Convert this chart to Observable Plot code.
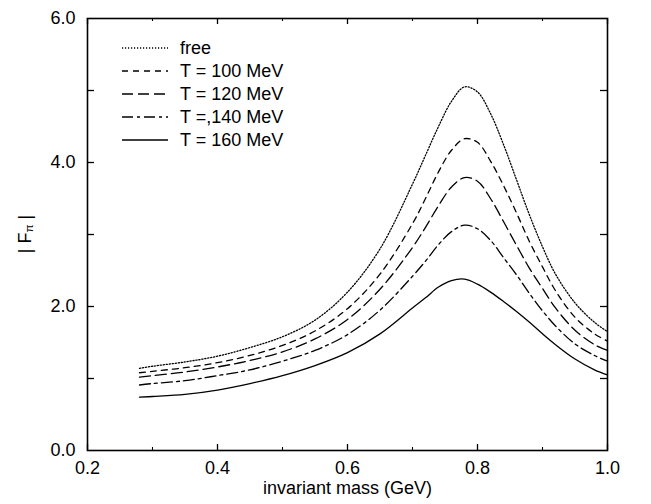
<!DOCTYPE html>
<html>
<head>
<meta charset="utf-8">
<script src="https://cdn.jsdelivr.net/npm/d3@7"></script>
<script src="https://cdn.jsdelivr.net/npm/@observablehq/plot@0.6"></script>
<style>
  html, body { margin: 0; padding: 0; background: white; }
  #chart svg { display: block; }
</style>
</head>
<body>
<div id="chart"></div>
<script>
// ---- data ----
const mass = [0.28,0.30,0.35,0.40,0.45,0.50,0.55,0.60,0.65,0.70,0.72,0.74,0.76,0.78,0.80,0.82,0.84,0.86,0.88,0.90,0.92,0.95,0.98,1.00];
const fFree = [1.14,1.17,1.23,1.31,1.43,1.58,1.81,2.20,2.80,3.70,4.10,4.50,4.85,5.05,4.98,4.68,4.25,3.76,3.27,2.83,2.45,2.05,1.78,1.65];
const fT100 = [1.08,1.10,1.15,1.22,1.32,1.46,1.66,1.97,2.45,3.15,3.50,3.87,4.17,4.33,4.28,4.02,3.68,3.30,2.90,2.55,2.22,1.85,1.62,1.52];
const fT120 = [1.02,1.04,1.09,1.16,1.25,1.37,1.55,1.82,2.24,2.82,3.10,3.40,3.66,3.79,3.74,3.50,3.18,2.85,2.53,2.25,1.98,1.67,1.47,1.39];
const fT140 = [0.91,0.93,0.97,1.04,1.12,1.24,1.39,1.61,1.95,2.42,2.63,2.86,3.04,3.13,3.08,2.92,2.68,2.44,2.18,1.94,1.73,1.48,1.32,1.24];
const fT160 = [0.74,0.75,0.78,0.84,0.93,1.04,1.18,1.36,1.62,1.98,2.12,2.27,2.36,2.38,2.31,2.20,2.07,1.93,1.78,1.62,1.47,1.27,1.12,1.05];

const seriesNames = ["free", "T = 100 MeV", "T = 120 MeV", "T =,140 MeV", "T = 160 MeV"];
const seriesValues = [fFree, fT100, fT120, fT140, fT160];
const seriesDash = ["1.2,1.8", "6,5", "11,5", "11,4,3,4", null];

const xMajorTicks = [0.2, 0.4, 0.6, 0.8, 1.0];
const xMinorTicks = [0.3, 0.5, 0.7, 0.9];
const yLabelTicks = [0, 2, 4, 6];
const yAllTicks = [1, 2, 3, 4, 5];

const xTitle = "invariant mass (GeV)";

// ---- layout ----
const W = 651, H = 504;
const mL = 87, mR = 44, mT = 18, mB = 54;
const innerW = W - mL - mR, innerH = H - mT - mB;
const FONT = "'Liberation Sans', Arial, Helvetica, sans-serif";
const FS = 18;

const rows = [];
seriesNames.forEach((name, i) => {
  mass.forEach((m, j) => rows.push({mass: m, F: seriesValues[i][j], series: name}));
});

const lineMarks = seriesNames.map((name, i) =>
  Plot.line(rows.filter(d => d.series === name), {
    x: "mass", y: "F", stroke: "black", strokeWidth: 1.3,
    strokeDasharray: seriesDash[i] || undefined,
    curve: "catmull-rom"
  })
);

const plot = Plot.plot({
  width: W, height: H,
  marginLeft: mL, marginRight: mR, marginTop: mT, marginBottom: mB,
  style: {fontFamily: FONT, fontSize: FS + "px", color: "black", background: "white"},
  x: {domain: [0.2, 1.0], ticks: xMajorTicks, tickSize: 0, tickPadding: 11, tickFormat: d3.format(".1f"), label: null},
  y: {domain: [0, 6], ticks: yLabelTicks, tickSize: 0, tickPadding: 12, tickFormat: d3.format(".1f"), label: null},
  marks: [
    // inward ticks
    Plot.tickX(xMajorTicks, {x: d => d, stroke: "black", strokeWidth: 1.3, insetTop: innerH - 6}),
    Plot.tickX(xMinorTicks, {x: d => d, stroke: "black", strokeWidth: 1.1, insetTop: innerH - 3}),
    Plot.tickX(xMajorTicks, {x: d => d, stroke: "black", strokeWidth: 1.3, insetBottom: innerH - 6}),
    Plot.tickX(xMinorTicks, {x: d => d, stroke: "black", strokeWidth: 1.1, insetBottom: innerH - 3}),
    Plot.tickY(yAllTicks, {y: d => d, stroke: "black", strokeWidth: 1.3, insetRight: innerW - 7}),
    Plot.tickY(yAllTicks, {y: d => d, stroke: "black", strokeWidth: 1.3, insetLeft: innerW - 7}),
    ...lineMarks,
    Plot.frame({stroke: "black", strokeWidth: 1.6}),
    Plot.text([xTitle], {frameAnchor: "bottom", dy: 43, text: d => d, fontSize: FS, fill: "black"})
  ]
});

document.getElementById("chart").appendChild(plot);

// y-axis title with subscript, and the legend
const svg = d3.select(plot);
const yt = svg.append("text")
  .attr("transform", `translate(26,${mT + innerH / 2}) rotate(-90)`)
  .attr("text-anchor", "middle")
  .attr("dominant-baseline", "middle")
  .attr("font-family", FONT)
  .attr("font-size", FS)
  .attr("fill", "black");
yt.append("tspan").text("| F");
yt.append("tspan").attr("font-size", FS * 0.65).attr("baseline-shift", "-30%").text("π");
yt.append("tspan").text(" |");

const lg = svg.append("g").attr("font-family", FONT).attr("font-size", FS).attr("fill", "black")
  .attr("text-anchor", "start");
seriesNames.forEach((name, i) => {
  const y = 48 + i * 23;
  const ln = lg.append("line").attr("x1", 122).attr("x2", 168).attr("y1", y).attr("y2", y)
    .attr("stroke", "black").attr("stroke-width", 1.3);
  if (seriesDash[i]) ln.attr("stroke-dasharray", seriesDash[i]);
  lg.append("text").attr("x", 180).attr("y", y).attr("dy", "0.35em")
    .attr("text-anchor", "start").text(name);
});
</script>
</body>
</html>
